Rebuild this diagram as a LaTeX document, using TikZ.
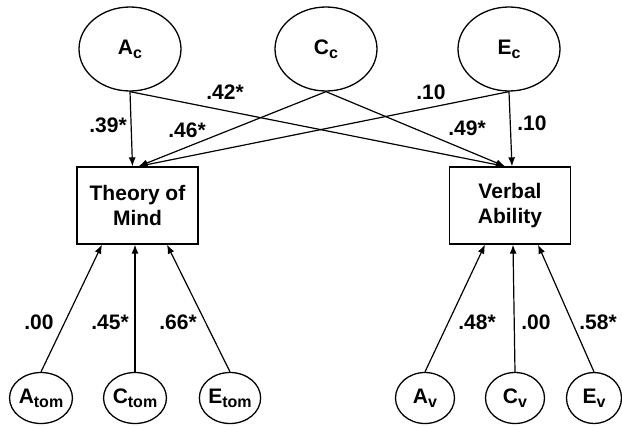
\documentclass[tikz,border=0pt]{standalone}
\usepackage{fontspec}
\setmainfont{Liberation Sans}
\usetikzlibrary{arrows.meta,shapes.geometric}
\newcommand\lsub[1]{\raisebox{-4pt}{\fontsize{16}{16}\selectfont #1}}
\tikzset{
  big/.style={draw,ellipse,line width=1.3pt,minimum width=102pt,minimum height=84pt,inner sep=0pt},
  small/.style={draw,ellipse,line width=1.3pt,minimum width=59pt,minimum height=51pt,inner sep=0pt},
  obs/.style={draw,rectangle,line width=1.3pt,minimum width=121pt,minimum height=77pt,align=center,inner sep=0pt},
  arr/.style={line width=1.2pt,-{Latex[length=9pt,width=7pt]}},
  lab/.style={inner sep=0pt}
}
\begin{document}
\begin{tikzpicture}[x=1pt,y=-1pt,font=\fontsize{21}{25}\selectfont\bfseries]
\useasboundingbox (0,0) rectangle (622,426);
%latent factors
\node[big] (Ac) at (130,49){A\lsub{c}};
\node[big] (Cc) at (326,49){C\lsub{c}};
\node[big] (Ec) at (509,49){E\lsub{c}};
%measures
\node[obs] (tom) at (137.5,205.5){Theory of\\Mind};
\node[obs] (va) at (510,205.5){Verbal\\Ability};
%specific factors
\node[small] (Atom) at (41,398){A\lsub{tom}};
\node[small] (Ctom) at (135,398){C\lsub{tom}};
\node[small] (Etom) at (230,398){E\lsub{tom}};
\node[small] (Av) at (425,398){A\lsub{v}};
\node[small] (Cv) at (515,398){C\lsub{v}};
\node[small,minimum width=55pt] (Ev) at (594,398){E\lsub{v}};

%common paths
\draw[arr] (Ac.south) -- ([xshift=-5pt]tom.north);
\draw[arr] (Cc.south) -- ([xshift=1pt]tom.north);
\draw[arr] (Ec.south) -- ([xshift=1pt]tom.north);
\draw[arr] (Ac.south) -- ([xshift=-5pt]va.north);
\draw[arr] (Cc.south) -- ([xshift=-5pt]va.north);
\draw[arr] (Ec.south) -- ([xshift=2pt]va.north);

%specific paths
\foreach \n/\dx in {Atom/-35.5,Ctom/-2.5,Etom/29.5}{
    \draw[arr] (\n.north) -- ([xshift=\dx pt]tom.south);
}
\foreach \n/\dx in {Av/-25,Cv/3,Ev/28}{
    \draw[arr] (\n.north) -- ([xshift=\dx pt]va.south);
}

%labels
\foreach \i/\x/\y/\t in {l1/108/125/.39*, l2/225/92/.42*, l3/187/130/.46*,
    l4/431/92/.10, l5/467/128/.49*, l6/532/123/.10,
    l7/39/322/.00, l8/110/322/.45*, l9/178/322/.66*,
    l10/477/322/.48*, l11/536/322/.00, l12/598/322/.58*}{
    \node[lab] (\i) at (\x,\y){\t};
}
\end{tikzpicture}
\end{document}
